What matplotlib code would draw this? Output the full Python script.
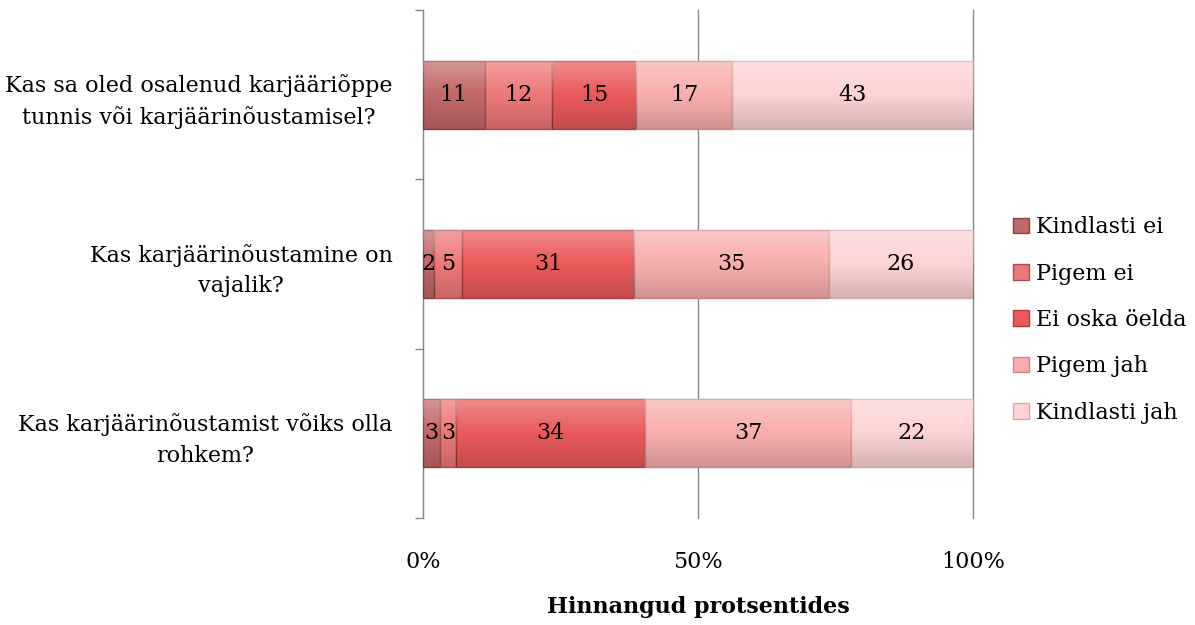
import matplotlib
matplotlib.use("Agg")
import matplotlib.pyplot as plt
import numpy as np
from matplotlib.ticker import FuncFormatter, FixedLocator

plt.rcParams['font.family'] = ['DejaVu Serif']

categories = [
    "Kas sa oled osalenud karjääriõppe\ntunnis või karjäärinõustamisel?",
    "Kas karjäärinõustamine on\nvajalik?",
    "Kas karjäärinõustamist võiks olla\nrohkem?",
]
series_names = ["Kindlasti ei", "Pigem ei", "Ei oska öelda", "Pigem jah", "Kindlasti jah"]
kindlasti_ei = [11, 2, 3]
pigem_ei = [12, 5, 3]
ei_oska = [15, 31, 34]
pigem_jah = [17, 35, 37]
kindlasti_jah = [43, 26, 22]
series_values = [kindlasti_ei, pigem_ei, ei_oska, pigem_jah, kindlasti_jah]
colors = ["#c26868", "#ee7878", "#ea5a5a", "#f8aeae", "#fdd3d3"]
edges = ["#8a4040", "#a85050", "#a84040", "#c88888", "#d8a8a8"]
xticks = [0, 0.5, 1.0]

FS = 16
fig = plt.figure(figsize=(11.95, 6.25), dpi=100)
ax = fig.add_axes([423/1195, 1-518/625, 550/1195, 508/625])

# vertical shading gradient: row 0 = top of bar on screen (light), last row = bottom (darker)
grad = np.zeros((64, 1, 4))
t = np.linspace(0, 1, 64)
grad[:, 0, :3] = np.where(t[:, None] < 0.5, 1.0, 0.0)
grad[:, 0, 3] = np.where(t < 0.5, 0.30 * (1 - t / 0.5), 0.16 * (t - 0.5) / 0.5)

vals = np.array(series_values, dtype=float)
totals = vals.sum(axis=0)
y = np.arange(len(categories))
left = np.zeros(len(categories))
for name, v, c, ec in zip(series_names, vals, colors, edges):
    frac = v / totals
    bars = ax.barh(y, frac, left=left, height=0.4, color=c, edgecolor=ec,
                   linewidth=1.0, label=name, zorder=3)
    for b, val in zip(bars, v):
        x0, y0, w, h = b.get_x(), b.get_y(), b.get_width(), b.get_height()
        im = ax.imshow(grad, extent=(x0, x0 + w, y0, y0 + h), aspect='auto',
                       origin='lower', zorder=3.5, interpolation='bilinear')
        im.set_clip_path(b)
        ax.text(x0 + w/2, y0 + h/2, f"{int(val)}", ha='center', va='center',
                fontsize=FS, color='black', zorder=4)
    left += frac

ax.set_xlim(0, 1)
ax.set_ylim(len(categories) - 0.5, -0.5)
ax.set_aspect('auto')
ax.set_xticks(xticks)
ax.xaxis.set_major_formatter(FuncFormatter(lambda v, p: f"{int(round(v*100))}%"))
ax.tick_params(axis='x', length=0, pad=24, labelsize=FS)
ax.set_yticks(y)
ax.set_yticklabels(categories, fontsize=FS, multialignment='center', linespacing=1.5)
ax.tick_params(axis='y', which='major', length=0, pad=22)
ax.yaxis.set_minor_locator(FixedLocator(np.arange(len(categories)+1) - 0.5))
ax.tick_params(axis='y', which='minor', length=6, color='#888888', width=1)
ax.grid(axis='x', color='#888888', linewidth=1, zorder=0)
for gl in ax.get_xgridlines():
    gl.set_clip_on(False)
for s in ['top', 'right', 'bottom']:
    ax.spines[s].set_visible(False)
ax.spines['left'].set_color('#888888')
ax.set_xlabel("Hinnangud protsentides", fontsize=FS, fontweight='bold', labelpad=16)

leg = fig.legend(loc='center left', bbox_to_anchor=(1013/1195, 1-320/625), frameon=False,
                 fontsize=FS, handlelength=0.7, handleheight=0.7,
                 handletextpad=0.35, labelspacing=1.1, borderaxespad=0, borderpad=0)

fig.savefig("out.png", dpi=100)
